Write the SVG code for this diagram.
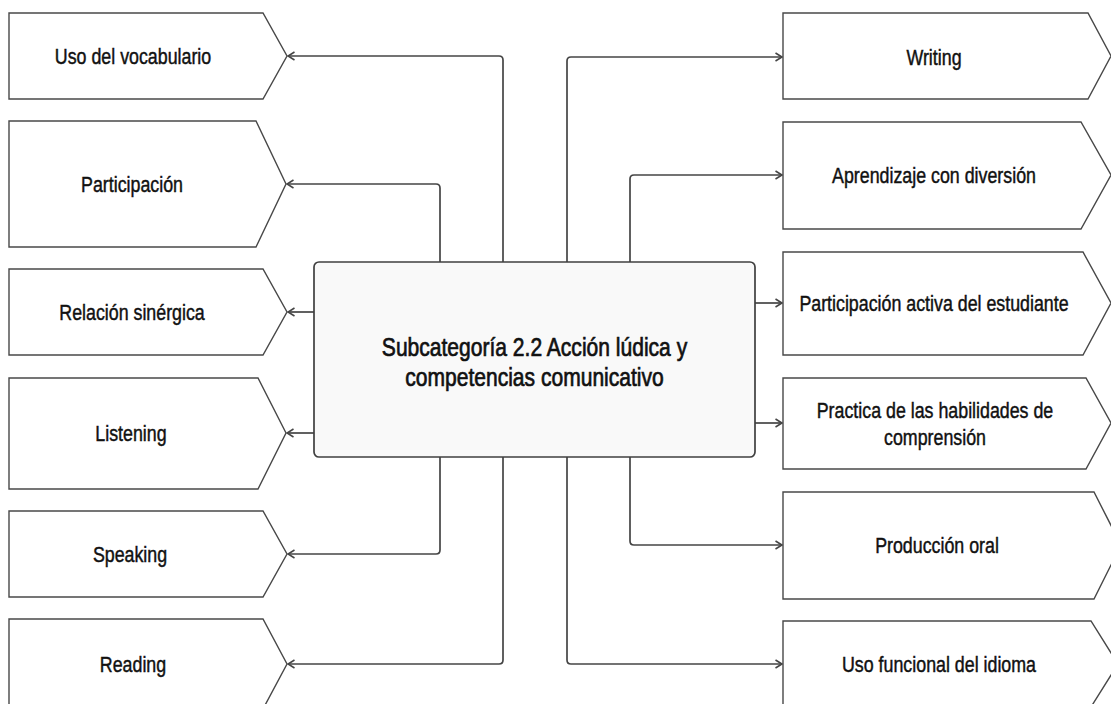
<svg xmlns="http://www.w3.org/2000/svg" width="1111" height="704" viewBox="0 0 1111 704">
  <style>
    .node { fill: #ffffff; stroke: #484848; stroke-width: 1.4; }
    .hub { fill: #f9f9f9; stroke: #404040; stroke-width: 1.7; }
    .lbl { font-family: "Liberation Sans", Arial, sans-serif; font-size: 22px; fill: #111111; stroke: #111111; stroke-width: 0.45; text-anchor: middle; }
    .hubl { font-family: "Liberation Sans", Arial, sans-serif; font-size: 26px; fill: #111111; stroke: #111111; stroke-width: 0.7; text-anchor: middle; }
    .edge { fill: none; stroke: #454545; stroke-width: 1.7; marker-end: url(#arrow); }
  </style>
  <defs>
    <marker id="arrow" markerUnits="userSpaceOnUse" markerWidth="10" markerHeight="10" viewBox="0 0 10 10" refX="8.5" refY="5" orient="auto">
      <path d="M2,1 L8.5,5 L2,9" fill="none" stroke="#454545" stroke-width="1.6"/>
    </marker>
  </defs>

  <rect width="1111" height="704" fill="#ffffff"/>

  <!-- connectors -->
  <g id="connectors">
    <path class="edge" d="M503,262 V60 Q503,56 499,56 H288"/>
    <path class="edge" d="M440,262 V188 Q440,184 436,184 H287"/>
    <path class="edge" d="M314,312 H288"/>
    <path class="edge" d="M314,433 H287"/>
    <path class="edge" d="M440,457 V550 Q440,554 436,554 H288"/>
    <path class="edge" d="M503,457 V660 Q503,664 499,664 H288"/>

    <path class="edge" d="M567,262 V61 Q567,57 571,57 H782"/>
    <path class="edge" d="M630,262 V179 Q630,175 634,175 H782"/>
    <path class="edge" d="M755,303 H782"/>
    <path class="edge" d="M755,423 H782"/>
    <path class="edge" d="M630,457 V541 Q630,545 634,545 H782"/>
    <path class="edge" d="M567,457 V660 Q567,664 571,664 H782"/>
  </g>

  <!-- central topic -->
  <g id="hub">
    <rect class="hub" x="314" y="262" width="441" height="195" rx="5"/>
    <text class="hubl" transform="translate(534.5 356) scale(0.81 1)"><tspan x="0" y="0">Subcategoría 2.2 Acción lúdica y</tspan><tspan x="0" y="30">competencias comunicativo</tspan></text>
  </g>

  <!-- left column -->
  <g id="uso-vocabulario">
    <polygon class="node" points="9,13 263,13 287,56 263,99 9,99"/>
    <text class="lbl" transform="translate(133 64) scale(0.81 1)">Uso del vocabulario</text>
  </g>
  <g id="participacion">
    <polygon class="node" points="9,121 256,121 286,184 256,247 9,247"/>
    <text class="lbl" transform="translate(132 192) scale(0.81 1)">Participación</text>
  </g>
  <g id="relacion-sinergica">
    <polygon class="node" points="9,269 263,269 287,312 263,355 9,355"/>
    <text class="lbl" transform="translate(132 320) scale(0.81 1)">Relación sinérgica</text>
  </g>
  <g id="listening">
    <polygon class="node" points="9,378 258,378 286,433 258,489 9,489"/>
    <text class="lbl" transform="translate(131 441) scale(0.81 1)">Listening</text>
  </g>
  <g id="speaking">
    <polygon class="node" points="9,511 263,511 287,554 263,597 9,597"/>
    <text class="lbl" transform="translate(130 562) scale(0.81 1)">Speaking</text>
  </g>
  <g id="reading">
    <polygon class="node" points="9,619 263,619 287,664 263,709 9,709"/>
    <text class="lbl" transform="translate(133 672) scale(0.81 1)">Reading</text>
  </g>

  <!-- right column -->
  <g id="writing">
    <polygon class="node" points="783,13 1088,13 1111,56 1088,99 783,99"/>
    <text class="lbl" transform="translate(934 65) scale(0.81 1)">Writing</text>
  </g>
  <g id="aprendizaje">
    <polygon class="node" points="783,122 1081,122 1111,175 1081,229 783,229"/>
    <text class="lbl" transform="translate(934 183) scale(0.81 1)">Aprendizaje con diversión</text>
  </g>
  <g id="participacion-activa">
    <polygon class="node" points="783,252 1083,252 1111,303 1083,355 783,355"/>
    <text class="lbl" transform="translate(934 311) scale(0.81 1)">Participación activa del estudiante</text>
  </g>
  <g id="practica">
    <polygon class="node" points="783,378 1086,378 1111,423 1086,469 783,469"/>
    <text class="lbl" transform="translate(935 418) scale(0.81 1)"><tspan x="0" y="0">Practica de las habilidades de</tspan><tspan x="0" y="27">comprensión</tspan></text>
  </g>
  <g id="produccion-oral">
    <polygon class="node" points="783,492 1094,492 1121,545 1094,599 783,599"/>
    <text class="lbl" transform="translate(937 553) scale(0.81 1)">Producción oral</text>
  </g>
  <g id="uso-funcional">
    <polygon class="node" points="783,621 1091,621 1118,664 1091,707 783,707"/>
    <text class="lbl" transform="translate(939 672) scale(0.81 1)">Uso funcional del idioma</text>
  </g>
</svg>
